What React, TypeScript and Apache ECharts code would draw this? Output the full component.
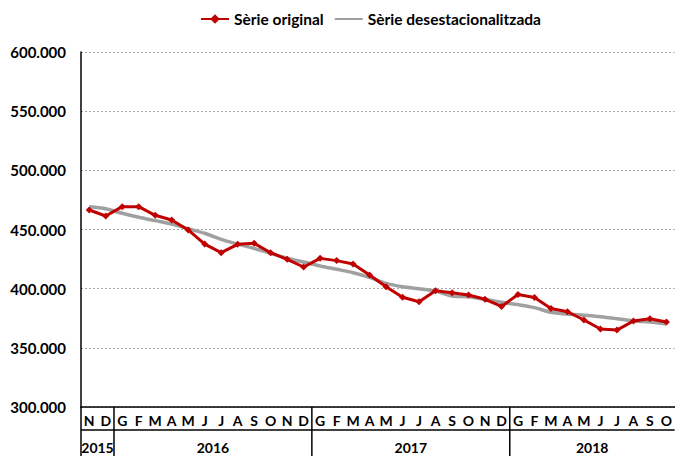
import React, { useEffect, useRef } from "react";
import * as echarts from "echarts";

const months = [
  "N", "D",
  "G", "F", "M", "A", "M", "J", "J", "A", "S", "O", "N", "D",
  "G", "F", "M", "A", "M", "J", "J", "A", "S", "O", "N", "D",
  "G", "F", "M", "A", "M", "J", "J", "A", "S", "O",
];
const years = ["2015", "2016", "2017", "2018"];
const yearCounts = [2, 12, 12, 10];

const original = [
  466500, 461400,
  469300, 469300, 462000, 458000, 449600, 437700, 430400, 437500, 438300, 430400, 424800, 418300,
  425600, 423700, 420800, 411500, 401700, 392700, 389000, 398300, 396600, 394600, 391000, 385000,
  395000, 392500, 383300, 380500, 373500, 365900, 365000, 372700, 374600, 371800,
];
const desestacionalitzada = [
  469300, 467600,
  463700, 460300, 457500, 454600, 450700, 446800, 441700, 437700, 434000, 429900, 425700, 422500,
  419200, 416400, 413500, 409600, 404500, 401700, 400000, 398000, 393800, 393200, 391000, 388500,
  386500, 384000, 380000, 378600, 377500, 376300, 374600, 372700, 371800, 370100,
];
const yTicks = { min: 300000, max: 600000, interval: 50000 };

const FONT = "Lato";

export default function App() {
  const ref = useRef<HTMLDivElement>(null);
  useEffect(() => {
    if (!ref.current) return;
    const chart = echarts.init(ref.current, null, { renderer: "svg" });
    const option: any = {
      animation: false,
      textStyle: { fontFamily: FONT },
      legend: {
        top: 6,
        left: 195,
        itemWidth: 28,
        itemHeight: 12,
        itemGap: 10,
        textStyle: { fontFamily: FONT, fontWeight: "bold", fontSize: 15.5, color: "#000" },
        data: [
          { name: "Sèrie original" },
          {
            name: "Sèrie desestacionalitzada",
            itemStyle: { color: "rgba(0,0,0,0)", opacity: 0, borderWidth: 0 },
          },
        ],
      },
      grid: { left: 81, top: 52, bottom: 49, width: 599 },
      xAxis: {
        type: "category",
        data: months,
        boundaryGap: true,
        axisLine: { lineStyle: { color: "#000", width: 1.5 } },
        axisTick: { show: false },
        axisLabel: {
          interval: 0,
          margin: 6,
          fontFamily: FONT,
          fontWeight: "bold",
          fontSize: 14,
          color: "#000",
        },
      },
      yAxis: {
        type: "value",
        min: yTicks.min,
        max: yTicks.max,
        interval: yTicks.interval,
        axisLine: { show: true, lineStyle: { color: "#000", width: 1.5 } },
        axisTick: { show: false },
        axisLabel: {
          margin: 15,
          fontFamily: FONT,
          fontWeight: "bold",
          fontSize: 15,
          color: "#000",
          formatter: (v: number) => (v / 1000).toFixed(3),
        },
        splitLine: { lineStyle: { color: "#a6a6a6", type: [2, 2], width: 1 } },
      },
      series: [
        {
          name: "Sèrie original",
          type: "line",
          data: original,
          symbol: "diamond",
          symbolSize: 7,
          z: 3,
          lineStyle: { color: "#c00000", width: 3 },
          itemStyle: { color: "#c00000" },
        },
        {
          name: "Sèrie desestacionalitzada",
          type: "line",
          data: desestacionalitzada,
          symbol: "none",
          smooth: 0.3,
          z: 2,
          lineStyle: { color: "#a0a0a0", width: 3.5 },
          itemStyle: { color: "#a0a0a0" },
        },
      ],
    };
    chart.setOption(option);

    const px = (i: number) => chart.convertToPixel({ xAxisIndex: 0 }, i) as number;
    const cw = px(1) - px(0);
    const leftEdge = px(0) - cw / 2;
    const rightEdge = px(months.length - 1) + cw / 2;
    const yBottom = chart.convertToPixel({ yAxisIndex: 0 }, yTicks.min) as number;
    const bottom = 456;
    const graphics: any[] = [];
    const ls = { stroke: "#000", lineWidth: 1.5 };
    graphics.push({ type: "line", shape: { x1: leftEdge, y1: yBottom, x2: leftEdge, y2: bottom }, style: ls });
    graphics.push({ type: "line", shape: { x1: leftEdge, y1: yBottom + 23, x2: rightEdge, y2: yBottom + 23 }, style: ls });
    let start = 0;
    years.forEach((y, k) => {
      const end = start + yearCounts[k];
      const x0 = px(start) - cw / 2;
      const x1 = px(end - 1) + cw / 2;
      if (k > 0) {
        graphics.push({ type: "line", shape: { x1: x0, y1: yBottom, x2: x0, y2: bottom }, style: ls });
      }
      graphics.push({
        type: "text",
        x: (x0 + x1) / 2,
        y: yBottom + 40,
        style: {
          text: y,
          fill: "#000",
          font: `bold 14px ${FONT}`,
          align: "center",
          verticalAlign: "middle",
        },
      });
      start = end;
    });
    chart.setOption({ graphic: graphics });

    return () => chart.dispose();
  }, []);
  return <div ref={ref} style={{ width: 675, height: 456, position: "absolute", left: 0, top: 0 }} />;
}
